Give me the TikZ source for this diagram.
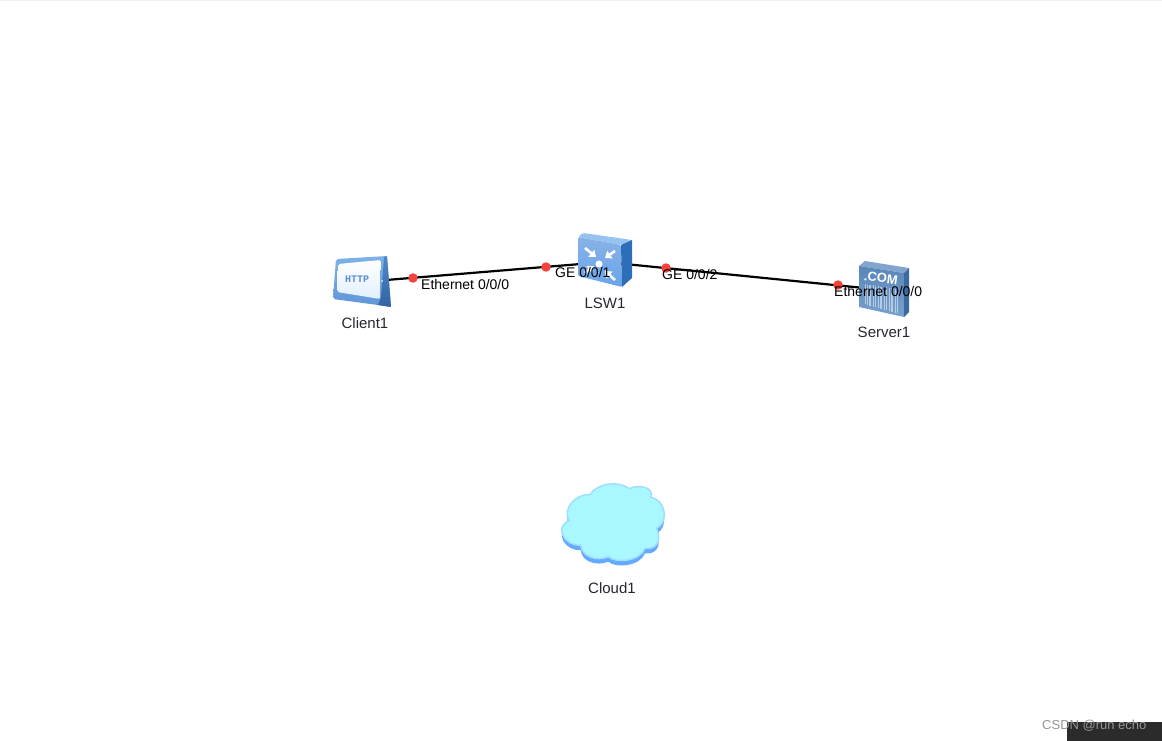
\documentclass[tikz,border=0pt]{standalone}
\usepackage{fontspec}
\setmainfont{Liberation Sans}
\setmonofont{Liberation Mono}
\usetikzlibrary{arrows.meta}
\definecolor{linkred}{HTML}{F5423A}
\definecolor{labeldark}{HTML}{26262E}
\definecolor{cframetop}{RGB}{125,178,232}
\definecolor{cframebot}{RGB}{95,150,215}
\definecolor{csidetop}{RGB}{80,135,200}
\definecolor{csidebot}{RGB}{50,100,165}
\definecolor{cscreen}{RGB}{225,240,253}
\definecolor{chttp}{RGB}{90,140,205}
\definecolor{swtop}{RGB}{150,195,240}
\definecolor{swfronta}{RGB}{135,178,230}
\definecolor{swfrontb}{RGB}{105,165,235}
\definecolor{swside}{RGB}{45,110,185}
\definecolor{svtop}{RGB}{130,165,205}
\definecolor{svfronta}{RGB}{90,135,185}
\definecolor{svfrontb}{RGB}{120,160,205}
\definecolor{svside}{RGB}{60,105,160}
\definecolor{cloudshadow}{RGB}{100,170,255}
\definecolor{cloudfill}{RGB}{170,248,255}
\definecolor{cloudedge}{RGB}{160,222,255}
\definecolor{wmbox}{RGB}{43,43,43}
\definecolor{wmtext}{RGB}{150,150,150}
\tikzset{
  x=1pt,y=-1pt,
  hub/.style={inner sep=0pt,minimum size=1pt},
  link/.style={draw=black,line width=2.2pt},
  dot/.style={circle,fill=linkred,inner sep=0pt,minimum size=9.5pt},
  portlabel/.style={font=\fontsize{14}{14}\selectfont,text=black,inner sep=0pt},
  devlabel/.style={font=\fontsize{15}{15}\selectfont,text=labeldark,inner sep=0pt},
  swarrow/.style={draw=white,line width=2.6pt,-{Triangle[length=6pt,width=9pt]}},
}
\begin{document}
\begin{tikzpicture}
\useasboundingbox (0,0) rectangle (1162,741);
\fill[white] (0,0) rectangle (1162,741);
\draw[draw=black!6,line width=1pt] (0,0.5) -- (1162,0.5);

% hubs
\node[hub] (client) at (362,282) {};
\node[hub] (lsw) at (605,262) {};
\node[hub] (server) at (884,290) {};
\node[hub] (cloud) at (612,526) {};

% connectors
\draw[link] (client.center) -- (lsw.center);
\draw[link] (lsw.center) -- (server.center);

% client icon
\shade[top color=cframetop,bottom color=cframebot,rounded corners=2pt]
  (336,259) -- (387,256) -- (391,307) -- (378,305) -- (333,299) -- cycle;
\shade[top color=csidetop,bottom color=csidebot]
  (384,257) -- (387,256) -- (391,307) -- (378,305) -- (381,298) -- cycle;
\shade[top color=white,bottom color=cscreen,rounded corners=2pt]
  (338,264) -- (381,260) -- (380,299) -- (337,292) -- cycle;
\fill[cscreen] (382,281) circle (1pt);
\node[inner sep=0pt,font=\fontsize{10}{10}\ttfamily\bfseries,text=chttp] (httptext) at (357,279) {HTTP};

% switch icon
\fill[swtop,rounded corners=1.5pt] (578,237) -- (583,233) -- (632,240) -- (621,245) -- cycle;
\shade[top color=swfronta,bottom color=swfrontb,rounded corners=1.5pt]
  (578,237) -- (621,245) -- (622,287) -- (578,276) -- cycle;
\fill[swside] (621,245) -- (632,240) -- (632,278) -- (622,287) -- cycle;
\draw[swarrow] (585,248) -- (596,257);
\draw[swarrow] (615,251) -- (605,258);
\draw[swarrow] (585,273) -- (594,266);
\draw[swarrow] (615,280) -- (605,271);
\fill[white] (599,264) circle (3.5pt);

% server icon
\fill[svtop] (859,266) -- (865,261) -- (909,268) -- (904,273) -- cycle;
\shade[top color=svfronta,bottom color=svfrontb]
  (859,266) -- (904,273) -- (904,317) -- (859,307) -- cycle;
\fill[svside] (904,273) -- (909,268) -- (909,312) -- (904,317) -- cycle;
\node[inner sep=0pt,rotate=-8,font=\fontsize{13}{13}\selectfont\bfseries,text=white] (comtext) at (881,278) {.COM};
\foreach \bx/\bw in {865/1,867.5/.6,870/1.2,873/.6,875.5/1,878/.6,881/1.2,884/.6,886.5/1,889/.6,892/1.2,895/.6,897.5/1}{
  \draw[draw=white,opacity=.5,line width=\bw pt] (\bx,{284+(\bx-864)*0.15}) -- (\bx,{304+(\bx-864)*0.28});
}

% cloud icon
\begin{scope}[shift={(540,470)},x=0.3333pt,y=-0.3333pt]
  \fill[cloudshadow,yshift=-5pt]
    (88,152) .. controls (65,115) and (110,70) .. (150,74)
    .. controls (170,40) and (235,30) .. (268,56)
    .. controls (300,40) and (345,55) .. (332,82)
    .. controls (380,90) and (385,160) .. (350,175)
    .. controls (368,215) and (345,240) .. (315,235)
    .. controls (300,275) and (225,280) .. (205,260)
    .. controls (170,275) and (125,260) .. (122,225)
    .. controls (75,230) and (40,170) .. (88,152) -- cycle;
  \filldraw[fill=cloudfill,draw=cloudedge,line width=1.5pt]
    (88,152) .. controls (65,115) and (110,70) .. (150,74)
    .. controls (170,40) and (235,30) .. (268,56)
    .. controls (300,40) and (345,55) .. (332,82)
    .. controls (380,90) and (385,160) .. (350,175)
    .. controls (368,215) and (345,240) .. (315,235)
    .. controls (300,275) and (225,280) .. (205,260)
    .. controls (170,275) and (125,260) .. (122,225)
    .. controls (75,230) and (40,170) .. (88,152) -- cycle;
\end{scope}

% port dots
\node[dot] (d1) at (413,278) {};
\node[dot] (d2) at (546,267) {};
\node[dot] (d3) at (666,268) {};
\node[dot] (d4) at (838,285) {};

% port labels
\node[portlabel,anchor=west] (p1) at (421,284) {Ethernet 0/0/0};
\node[portlabel,anchor=west] (p2) at (555,272) {GE 0/0/1};
\node[portlabel,anchor=west] (p3) at (662,274) {GE 0/0/2};
\node[portlabel,anchor=west] (p4) at (834,291) {Ethernet 0/0/0};

% device labels
\node[devlabel] (lc) at (365,323) {Client1};
\node[devlabel] (ll) at (605,303) {LSW1};
\node[devlabel] (ls) at (884,332) {Server1};
\node[devlabel] (lk) at (612,588) {Cloud1};

% watermark
\fill[wmbox] (1067,722) rectangle (1162,741);
\node[inner sep=0pt,anchor=west,font=\fontsize{13}{13}\selectfont,text=wmtext] (wm) at (1042,726) {CSDN @run echo};
\end{tikzpicture}
\end{document}
